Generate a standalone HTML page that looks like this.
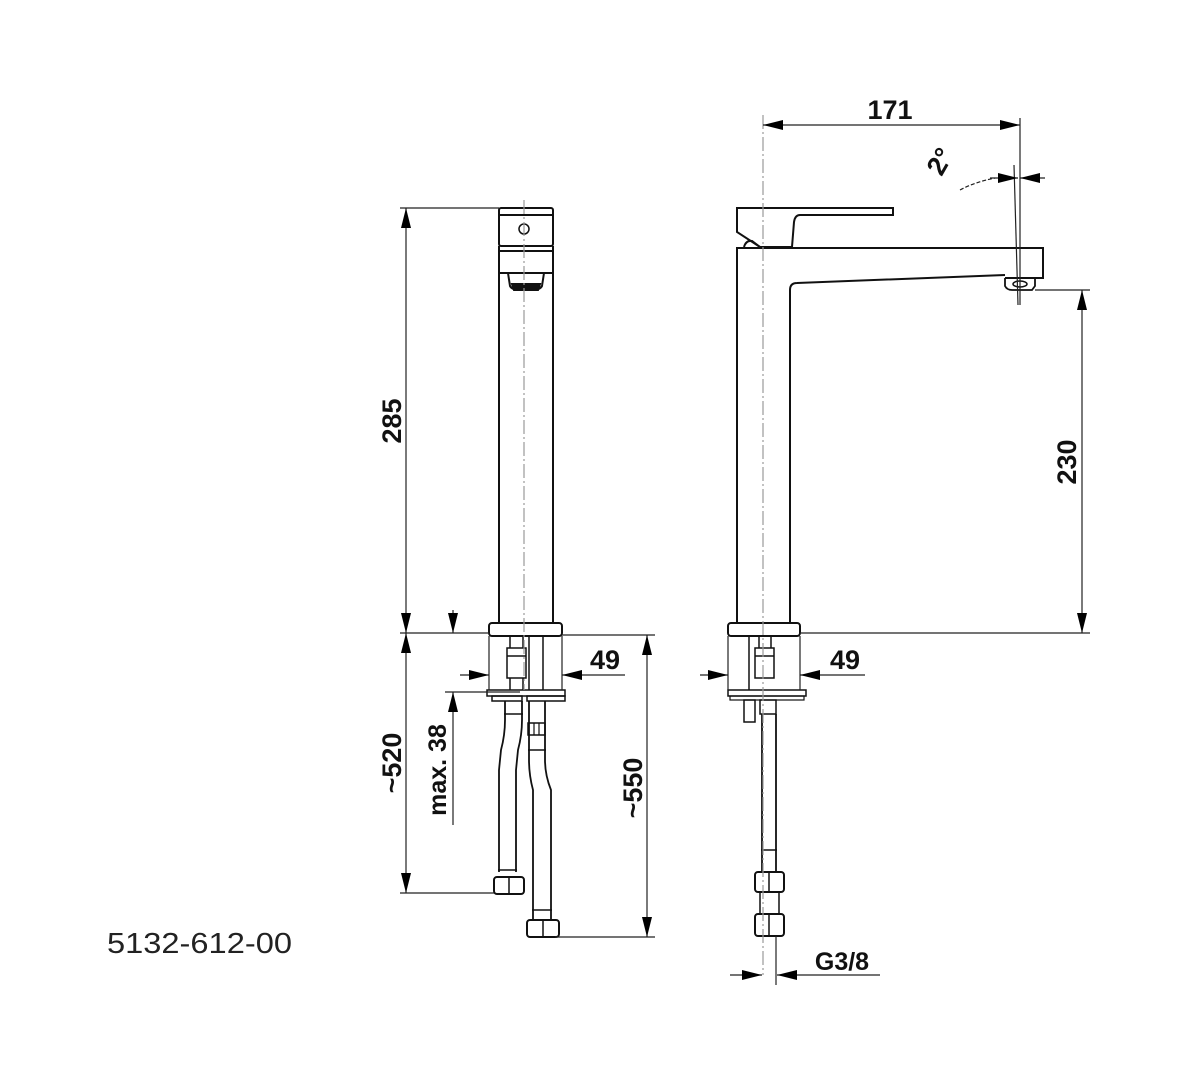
<!DOCTYPE html>
<html><head><meta charset="utf-8"><style>
html,body{margin:0;padding:0;background:#fff;}
svg{display:block;}
.t{font-family:"Liberation Sans",sans-serif;font-weight:bold;font-size:27px;fill:#111;}
</style></head><body>
<svg width="1193" height="1080" viewBox="0 0 1193 1080" xmlns="http://www.w3.org/2000/svg">
<defs>
<marker id="a" viewBox="0 0 20 10" refX="20" refY="5" markerWidth="20" markerHeight="10" markerUnits="userSpaceOnUse" orient="auto-start-reverse"><path d="M0,0 L20,5 L0,10 Z" fill="#000"/></marker>
</defs>
<g fill="none" stroke="#111" stroke-width="2">
<!-- LEFT FAUCET -->
<rect x="499" y="208" width="54" height="38" rx="2"/>
<line x1="499" y1="215" x2="553" y2="215"/>
<circle cx="524" cy="229" r="5" stroke-width="1.5"/>
<rect x="499" y="251" width="54" height="22"/>
<line x1="499" y1="246" x2="499" y2="623"/><line x1="553" y1="246" x2="553" y2="623"/>
<path d="M508,273 L510,286 Q512,290 520,290 L532,290 Q540,290 542,286 L544,273"/>
<path d="M512,284 L540,284 L538,290 L514,290Z" fill="#111"/>
<rect x="489" y="623" width="73" height="13" rx="3"/>
<rect x="507" y="648" width="19" height="30" stroke-width="1.5"/>
<line x1="507" y1="656" x2="526" y2="656" stroke-width="1.5"/>
<line x1="510" y1="636" x2="510" y2="648" stroke-width="1.5"/><line x1="523" y1="636" x2="523" y2="648" stroke-width="1.5"/>
<line x1="529" y1="636" x2="529" y2="690" stroke-width="1.5"/><line x1="543" y1="636" x2="543" y2="690" stroke-width="1.5"/>
<rect x="487" y="690" width="78" height="6" stroke-width="1.5"/>
<rect x="492" y="696" width="30" height="5" stroke-width="1.5"/>
<rect x="527" y="696" width="38" height="5" stroke-width="1.5"/>
<line x1="510" y1="678" x2="510" y2="690" stroke-width="1.5"/><line x1="523" y1="678" x2="523" y2="690" stroke-width="1.5"/>
<!-- left hose -->
<path d="M505,701 L505,720 Q505,735 501,750 L499,770 L499,872" stroke-width="1.8"/>
<path d="M522,701 L522,720 Q522,735 518,750 L516,770 L516,872" stroke-width="1.8"/>
<line x1="504" y1="714" x2="523" y2="714" stroke-width="1.5"/>
<line x1="498" y1="870" x2="517" y2="870" stroke-width="1.5"/>
<rect x="494" y="877" width="30" height="17" rx="3"/>
<line x1="509" y1="877" x2="509" y2="894" stroke-width="1.5"/>
<!-- right hose -->
<rect x="528" y="723" width="17" height="12" stroke-width="1.5"/>
<line x1="534" y1="723" x2="534" y2="735" stroke-width="1.2"/><line x1="539" y1="723" x2="539" y2="735" stroke-width="1.2"/>
<path d="M529,701 L529,760 Q529,775 533,790 L533,920" stroke-width="1.8"/>
<path d="M545,701 L545,760 Q545,775 551,790 L551,920" stroke-width="1.8"/>
<line x1="528" y1="750" x2="546" y2="750" stroke-width="1.5"/>
<line x1="532" y1="910" x2="552" y2="910" stroke-width="1.5"/>
<rect x="527" y="920" width="32" height="17" rx="3"/>
<line x1="543" y1="920" x2="543" y2="937" stroke-width="1.5"/>

<!-- RIGHT FAUCET -->
<path d="M737,208 L893,208 L893,215 L800,215 Q795,215 794,222 L792,247 L760,247 L737,232 Z"/>
<path d="M744,247 Q746,240 752,241 L760,247"/>
<path d="M737,623 L737,248 L1043,248 L1043,278 L1005,278"/>
<path d="M790,623 L790,290 Q790,283 797,283 L1005,275"/>
<path d="M1005,278 L1005,286 Q1007,290 1012,290 L1032,290 L1035,286 L1035,278" stroke-width="1.8"/>
<ellipse cx="1020" cy="284" rx="7" ry="3" stroke-width="1.5"/>
<rect x="728" y="623" width="72" height="13" rx="3"/>
<rect x="755" y="648" width="19" height="30" stroke-width="1.5"/>
<line x1="755" y1="656" x2="774" y2="656" stroke-width="1.5"/>
<line x1="759" y1="636" x2="759" y2="648" stroke-width="1.5"/><line x1="771" y1="636" x2="771" y2="648" stroke-width="1.5"/>
<line x1="749" y1="636" x2="749" y2="690" stroke-width="1.5"/>
<rect x="728" y="690" width="78" height="6" stroke-width="1.5"/>
<rect x="730" y="696" width="74" height="4" stroke-width="1.2"/>
<rect x="744" y="700" width="11" height="22" stroke-width="1.5"/>
<rect x="760" y="700" width="16" height="14" stroke-width="1.5"/>
<line x1="762" y1="714" x2="762" y2="872" stroke-width="1.8"/><line x1="776" y1="714" x2="776" y2="872" stroke-width="1.8"/>
<line x1="761" y1="850" x2="777" y2="850" stroke-width="1.5"/>
<rect x="755" y="872" width="29" height="20" rx="3"/>
<line x1="769" y1="872" x2="769" y2="892" stroke-width="1.5"/>
<rect x="760" y="892" width="19" height="22" stroke-width="1.5"/>
<rect x="755" y="914" width="29" height="22" rx="3"/>
<line x1="769" y1="914" x2="769" y2="936" stroke-width="1.5"/>
</g>

<!-- centerlines -->
<g stroke="#999" stroke-width="1.2" stroke-dasharray="14,3,2,3" fill="none">
<line x1="524" y1="200" x2="524" y2="690"/>
<line x1="763" y1="115" x2="763" y2="975"/>
</g>

<!-- dimension lines -->
<g stroke="#222" stroke-width="1.2" fill="none">
<line x1="400" y1="208" x2="499" y2="208"/>
<line x1="400" y1="633" x2="489" y2="633"/>
<line x1="406" y1="208" x2="406" y2="633" marker-start="url(#a)" marker-end="url(#a)"/>
<line x1="406" y1="633" x2="406" y2="893" marker-start="url(#a)" marker-end="url(#a)"/>
<line x1="400" y1="893" x2="494" y2="893"/>
<line x1="453" y1="610" x2="453" y2="633" marker-end="url(#a)"/>
<line x1="453" y1="825" x2="453" y2="692" marker-end="url(#a)"/>
<line x1="445" y1="692" x2="520" y2="692"/>
<line x1="460" y1="675" x2="489" y2="675" marker-end="url(#a)"/>
<line x1="625" y1="675" x2="562" y2="675" marker-end="url(#a)"/>
<line x1="489" y1="636" x2="489" y2="690"/><line x1="562" y1="636" x2="562" y2="690"/>
<line x1="562" y1="635" x2="655" y2="635"/>
<line x1="555" y1="937" x2="655" y2="937"/>
<line x1="647" y1="635" x2="647" y2="937" marker-start="url(#a)" marker-end="url(#a)"/>
<line x1="763" y1="125" x2="1020" y2="125" marker-start="url(#a)" marker-end="url(#a)"/>
<line x1="1020" y1="118" x2="1020" y2="305"/>
<line x1="1014" y1="165" x2="1018" y2="305"/>
<line x1="990" y1="178" x2="1018" y2="178" marker-end="url(#a)"/>
<line x1="1045" y1="178" x2="1020" y2="178" marker-end="url(#a)"/>
<path d="M960,190 Q975,182 995,178" stroke-dasharray="4,2"/>
<line x1="1035" y1="290" x2="1090" y2="290"/>
<line x1="800" y1="633" x2="1090" y2="633"/>
<line x1="1082" y1="290" x2="1082" y2="633" marker-start="url(#a)" marker-end="url(#a)"/>
<line x1="728" y1="636" x2="728" y2="690"/><line x1="800" y1="636" x2="800" y2="690"/>
<line x1="700" y1="675" x2="728" y2="675" marker-end="url(#a)"/>
<line x1="865" y1="675" x2="800" y2="675" marker-end="url(#a)"/>
<line x1="776" y1="936" x2="776" y2="985"/>
<line x1="730" y1="975" x2="762" y2="975" marker-end="url(#a)"/>
<line x1="880" y1="975" x2="777" y2="975" marker-end="url(#a)"/>
</g>

<!-- labels -->
<text class="t" x="890" y="119" text-anchor="middle">171</text>
<text class="t" transform="translate(948,166) rotate(-60)" text-anchor="middle">2°</text>
<text class="t" transform="translate(1076,462) rotate(-90)" text-anchor="middle">230</text>
<text class="t" transform="translate(401,421) rotate(-90)" text-anchor="middle">285</text>
<text class="t" transform="translate(401,763) rotate(-90)" text-anchor="middle">~520</text>
<text class="t" transform="translate(446,770) rotate(-90)" text-anchor="middle" style="font-size:25px">max. 38</text>
<text class="t" transform="translate(642,788) rotate(-90)" text-anchor="middle">~550</text>
<text class="t" x="605" y="669" text-anchor="middle">49</text>
<text class="t" x="845" y="669" text-anchor="middle">49</text>
<text class="t" x="842" y="970" text-anchor="middle" style="font-size:25px">G3/8</text>
<text x="107" y="953" textLength="185" lengthAdjust="spacingAndGlyphs" style="font-family:'Liberation Sans',sans-serif;font-size:29px;fill:#222">5132-612-00</text>
</svg>
</body></html>
